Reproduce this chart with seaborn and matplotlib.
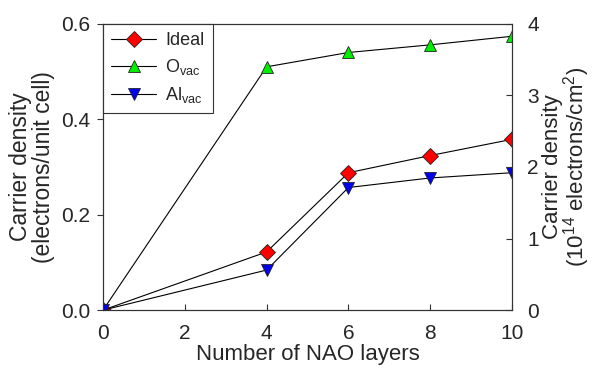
import matplotlib
matplotlib.use('Agg')
import matplotlib.pyplot as plt
import pandas as pd
import seaborn as sns

# data
layers = [0, 4, 6, 8, 10]
ideal = [0.0, 0.122, 0.288, 0.324, 0.358]
o_vac = [0.0, 0.510, 0.540, 0.556, 0.574]
al_vac = [0.0, 0.084, 0.257, 0.277, 0.288]
labels = ['Ideal', 'O$_{\\mathregular{vac}}$', 'Al$_{\\mathregular{vac}}$']

sns.set_style('ticks')
plt.rcParams['font.family'] = ['Liberation Sans', 'DejaVu Sans']
plt.rcParams['mathtext.fontset'] = 'custom'
plt.rcParams['mathtext.rm'] = 'Liberation Sans'

df = pd.DataFrame({
    'layers': layers * 3,
    'value': ideal + o_vac + al_vac,
    'series': [labels[0]] * 5 + [labels[1]] * 5 + [labels[2]] * 5,
})

fig = plt.figure(figsize=(5.92, 3.67), dpi=100)
ax = fig.add_axes([0.174, 0.155, 0.691, 0.78])

styles = {labels[0]: ('D', 'red', 8.5), labels[1]: ('^', '#00ee00', 8.5), labels[2]: ('v', '#0000ee', 8.5)}
for name in labels:
    m, c, s = styles[name]
    sns.lineplot(data=df[df['series'] == name], x='layers', y='value', ax=ax,
                 color='black', linewidth=0.8, marker=m, markersize=s,
                 markerfacecolor=c, markeredgecolor='#222222', markeredgewidth=0.6,
                 label=name)

ax.set_xlim(0, 10)
ax.set_ylim(0, 0.6)
ax.set_xticks([0, 2, 4, 6, 8, 10])
ax.set_yticks([0.0, 0.2, 0.4, 0.6])
ax.set_yticklabels(['0.0', '0.2', '0.4', '0.6'])
ax.tick_params(axis='both', labelsize=15, width=0.8, length=4, color='#333333')
ax.tick_params(axis='x', direction='in', pad=10)
ax.tick_params(axis='y', direction='out', pad=5)
ax.set_xlabel('Number of NAO layers', fontsize=16, labelpad=1)
ax.set_ylabel('Carrier density\n(electrons/unit cell)', fontsize=16.5, linespacing=1.0)
ax.yaxis.set_label_coords(-0.117, 0.5)
for sp in ax.spines.values():
    sp.set_linewidth(0.8)
    sp.set_color('#333333')

ax2 = ax.twinx()
ax2.set_ylim(0, 4)
ax2.set_yticks([0, 1, 2, 3, 4])
ax2.tick_params(axis='y', labelsize=15, direction='in', width=0.8, length=4,
                color='#333333', pad=11)
ax2.set_ylabel('Carrier density\n(10$^{14}$ electrons/cm$^{2}$)', fontsize=16,
               linespacing=0.95)
ax2.yaxis.set_label_coords(1.072, 0.5)
for sp in ax2.spines.values():
    sp.set_linewidth(0.8)
    sp.set_color('#333333')

leg = ax.legend(loc='upper left', bbox_to_anchor=(0, 1), borderaxespad=0, fontsize=13,
                frameon=True, fancybox=False, framealpha=1, edgecolor='#333333',
                handlelength=2.5, labelspacing=0.45, borderpad=0.45, handletextpad=0.5)
leg.get_frame().set_linewidth(0.8)

fig.savefig('out.png', dpi=100)
